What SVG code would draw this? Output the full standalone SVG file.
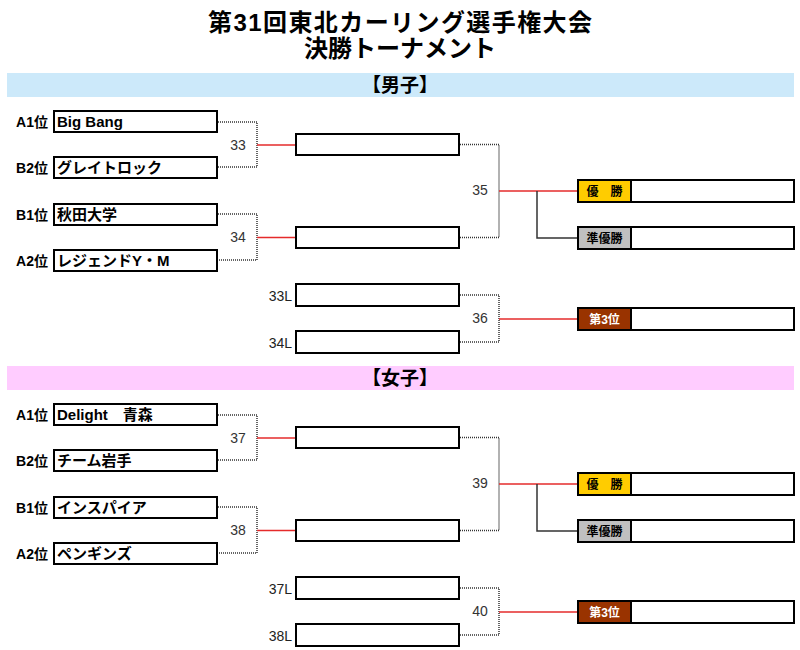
<svg xmlns="http://www.w3.org/2000/svg" width="800" height="650" viewBox="0 0 800 650">
<style>
text{font-family:"Liberation Sans","Noto Sans CJK JP",sans-serif;}
.title{font-size:24px;font-weight:bold;text-anchor:middle;fill:#000;}
.hdr{font-size:19px;font-weight:bold;text-anchor:middle;fill:#000;}
.rank{font-size:14px;font-weight:bold;text-anchor:end;fill:#000;}
.team{font-size:15px;font-weight:bold;fill:#000;}
.num{font-size:14px;fill:#333;text-anchor:middle;}
.loser{font-size:14px;fill:#222;text-anchor:end;}
.box{fill:#fff;stroke:#000;stroke-width:2;}
.dot{fill:none;stroke:#333;stroke-width:1.5;stroke-dasharray:1 1;}
.red{fill:none;stroke:#e52b2b;stroke-width:1.5;}
.br{fill:none;stroke:#333;stroke-width:1.5;}
.plab{font-size:12px;font-weight:bold;text-anchor:middle;}
</style>
<rect width="800" height="650" fill="#fff"/>
<text class="title" x="400" y="31" textLength="384" lengthAdjust="spacing">第31回東北カーリング選手権大会</text>
<text class="title" x="400" y="57">決勝トーナメント</text>

<g id="men-header"><rect x="7" y="73" width="787" height="24" fill="#cce9fa"/><text class="hdr" x="400" y="92">【男子】</text></g>
<g id="women-header"><rect x="7" y="366" width="787" height="24" fill="#ffccff"/><text class="hdr" x="400" y="385">【女子】</text></g>

<g id="men">
<g id="connectors-men">
<polyline class="dot" points="218,122 257,122 257,167 218,167"/>
<line class="red" x1="257" y1="145" x2="295" y2="145"/>
<polyline class="dot" points="218,214 257,214 257,260 218,260"/>
<line class="red" x1="257" y1="237.5" x2="295" y2="237.5"/>
<polyline class="dot" points="460,144.5 499,144.5 499,237.5 460,237.5"/>
<line class="red" x1="499" y1="191" x2="577" y2="191"/>
<polyline class="br" points="537,191 537,238 577,238"/>
<polyline class="dot" points="460,295 499,295 499,342 460,342"/>
<line class="red" x1="499" y1="319" x2="577" y2="319"/>
<text class="num" x="238" y="150">33</text>
<text class="num" x="238" y="242">34</text>
<text class="num" x="480" y="195">35</text>
<text class="num" x="480" y="323">36</text>
</g>
<g id="m-a1"><text class="rank" x="48" y="127">A1位</text><rect class="box" x="54" y="111" width="163" height="21"/><text class="team" x="57" y="127">Big Bang</text></g>
<g id="m-b2"><text class="rank" x="48" y="173">B2位</text><rect class="box" x="54" y="157" width="163" height="21"/><text class="team" x="57" y="173">グレイトロック</text></g>
<g id="m-b1"><text class="rank" x="48" y="220">B1位</text><rect class="box" x="54" y="204" width="163" height="21"/><text class="team" x="57" y="220">秋田大学</text></g>
<g id="m-a2"><text class="rank" x="48" y="266">A2位</text><rect class="box" x="54" y="250" width="163" height="21"/><text class="team" x="57" y="266">レジェンドY・M</text></g>
<g id="m-w33"><rect class="box" x="296" y="134" width="163" height="21"/></g>
<g id="m-w34"><rect class="box" x="296" y="227" width="163" height="21"/></g>
<g id="m-l33"><text class="loser" x="292" y="301">33L</text><rect class="box" x="296" y="284" width="163" height="22"/></g>
<g id="m-l34"><text class="loser" x="292" y="348">34L</text><rect class="box" x="296" y="331" width="163" height="22"/></g>
<g id="m-gold"><rect class="box" x="578" y="180" width="216" height="22"/><rect x="578" y="180" width="53" height="22" fill="#ffcc00" stroke="#000" stroke-width="2"/><text class="plab" x="604.5" y="196" fill="#000">優　勝</text></g>
<g id="m-silver"><rect class="box" x="578" y="227" width="216" height="22"/><rect x="578" y="227" width="53" height="22" fill="#c0c0c0" stroke="#000" stroke-width="2"/><text class="plab" x="604.5" y="243" fill="#000">準優勝</text></g>
<g id="m-bronze"><rect class="box" x="578" y="308" width="216" height="22"/><rect x="578" y="308" width="53" height="22" fill="#993300" stroke="#000" stroke-width="2"/><text class="plab" x="604.5" y="324" fill="#fff">第3位</text></g>
</g>

<g id="women" transform="translate(0,293)">
<g id="connectors-women">
<polyline class="dot" points="218,122 257,122 257,167 218,167"/>
<line class="red" x1="257" y1="145" x2="295" y2="145"/>
<polyline class="dot" points="218,214 257,214 257,260 218,260"/>
<line class="red" x1="257" y1="237.5" x2="295" y2="237.5"/>
<polyline class="dot" points="460,144.5 499,144.5 499,237.5 460,237.5"/>
<line class="red" x1="499" y1="191" x2="577" y2="191"/>
<polyline class="br" points="537,191 537,238 577,238"/>
<polyline class="dot" points="460,295 499,295 499,342 460,342"/>
<line class="red" x1="499" y1="319" x2="577" y2="319"/>
<text class="num" x="238" y="150">37</text>
<text class="num" x="238" y="242">38</text>
<text class="num" x="480" y="195">39</text>
<text class="num" x="480" y="323">40</text>
</g>
<g id="w-a1"><text class="rank" x="48" y="127">A1位</text><rect class="box" x="54" y="111" width="163" height="21"/><text class="team" x="57" y="127">Delight　青森</text></g>
<g id="w-b2"><text class="rank" x="48" y="173">B2位</text><rect class="box" x="54" y="157" width="163" height="21"/><text class="team" x="57" y="173">チーム岩手</text></g>
<g id="w-b1"><text class="rank" x="48" y="220">B1位</text><rect class="box" x="54" y="204" width="163" height="21"/><text class="team" x="57" y="220">インスパイア</text></g>
<g id="w-a2"><text class="rank" x="48" y="266">A2位</text><rect class="box" x="54" y="250" width="163" height="21"/><text class="team" x="57" y="266">ペンギンズ</text></g>
<g id="w-w37"><rect class="box" x="296" y="134" width="163" height="21"/></g>
<g id="w-w38"><rect class="box" x="296" y="227" width="163" height="21"/></g>
<g id="w-l37"><text class="loser" x="292" y="301">37L</text><rect class="box" x="296" y="284" width="163" height="22"/></g>
<g id="w-l38"><text class="loser" x="292" y="348">38L</text><rect class="box" x="296" y="331" width="163" height="22"/></g>
<g id="w-gold"><rect class="box" x="578" y="180" width="216" height="22"/><rect x="578" y="180" width="53" height="22" fill="#ffcc00" stroke="#000" stroke-width="2"/><text class="plab" x="604.5" y="196" fill="#000">優　勝</text></g>
<g id="w-silver"><rect class="box" x="578" y="227" width="216" height="22"/><rect x="578" y="227" width="53" height="22" fill="#c0c0c0" stroke="#000" stroke-width="2"/><text class="plab" x="604.5" y="243" fill="#000">準優勝</text></g>
<g id="w-bronze"><rect class="box" x="578" y="308" width="216" height="22"/><rect x="578" y="308" width="53" height="22" fill="#993300" stroke="#000" stroke-width="2"/><text class="plab" x="604.5" y="324" fill="#fff">第3位</text></g>
</g>
</svg>
